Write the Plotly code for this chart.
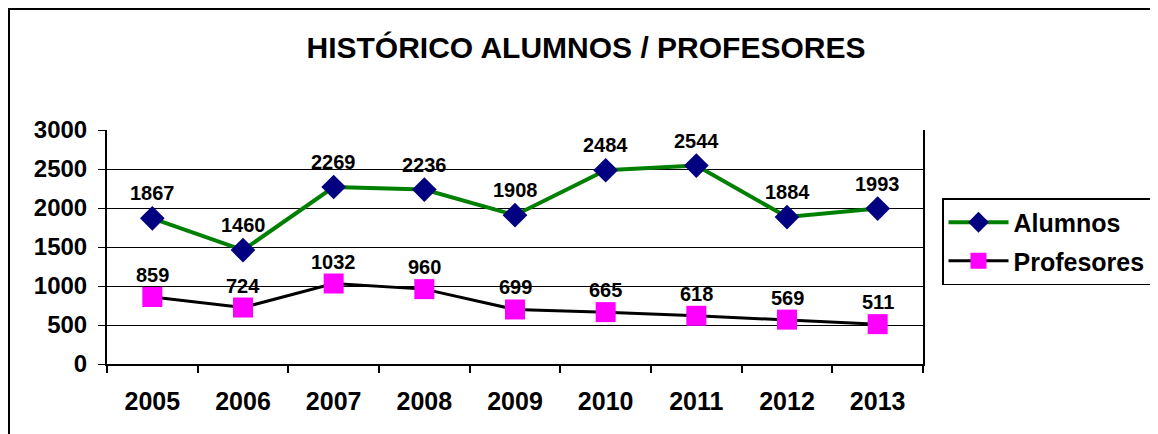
import plotly.graph_objects as go

years = ["2005", "2006", "2007", "2008", "2009", "2010", "2011", "2012", "2013"]
alumnos = [1867, 1460, 2269, 2236, 1908, 2484, 2544, 1884, 1993]
profesores = [859, 724, 1032, 960, 699, 665, 618, 569, 511]
y_ticks = [0, 500, 1000, 1500, 2000, 2500, 3000]

FONT = "Arial, Liberation Sans, sans-serif"

fig = go.Figure()
fig.add_trace(go.Scatter(
    x=years, y=alumnos, name="Alumnos", legendgroup="a",
    mode="lines+markers",
    line=dict(color="#008000", width=4),
    marker=dict(symbol="diamond", size=19, color="#000080", line=dict(width=0)),
    cliponaxis=False,
))
fig.add_trace(go.Scatter(
    x=years, y=profesores, name="Profesores", legendgroup="p",
    mode="lines+markers",
    line=dict(color="black", width=3),
    marker=dict(symbol="square", size=20, color="#FF00FF", line=dict(width=0)),
    cliponaxis=False,
))

# data labels from the series values (category axis: position by category index)
label_font = dict(family=FONT, size=20, color="black", weight="bold")
for series, shift in ((alumnos, 25), (profesores, 22)):
    for i, v in enumerate(series):
        fig.add_annotation(x=i, y=v, xref="x", yref="y", text=str(v), showarrow=False,
                           xanchor="center", yanchor="middle", yshift=shift,
                           font=label_font)

# page offset of the figure div (body margin)
OFF = 8
W, H = 1190 - OFF, 434 - OFF
# plot area in page pixels
PL, PR, PT, PB = 107, 923, 130, 364
L, T = PL - OFF, PT - OFF
R = W - (PR - OFF)
B = H - (PB - OFF)
pw = W - L - R
ph = H - T - B

def px_x(p):
    return (p - OFF - L) / pw

def px_y(p):
    return (H - B - (p - OFF)) / ph

fig.update_layout(
    width=W, height=H,
    margin=dict(l=L, r=R, t=T, b=B, pad=0),
    paper_bgcolor="white", plot_bgcolor="white",
    font=dict(family=FONT, color="black"),
    title=dict(text="HISTÓRICO ALUMNOS / PROFESORES", xref="container", x=(586 - OFF) / W,
               xanchor="center", yref="container", y=1 - (47 - OFF) / H, yanchor="middle",
               font=dict(family=FONT, size=30, color="black", weight="bold")),
    showlegend=True,
    legend=dict(x=px_x(942), y=px_y(198), xanchor="left", yanchor="top",
                bordercolor="black", borderwidth=1.5, bgcolor="white",
                font=dict(family=FONT, size=25, color="black", weight="bold"),
                tracegroupgap=3, itemwidth=60),
    xaxis=dict(type="category", range=[-0.5, 8.5], tickson="boundaries",
               ticks="outside", ticklen=7, tickcolor="black", tickwidth=1.5,
               showline=True, linecolor="black", linewidth=2, showgrid=False,
               tickfont=dict(family=FONT, size=25, color="black", weight="bold"),
               ticklabelstandoff=14, fixedrange=True),
    yaxis=dict(range=[0, 3000], tickvals=y_ticks, ticks="outside", ticklen=7,
               tickcolor="black", tickwidth=1, showline=True, linecolor="black",
               linewidth=2, mirror=True, showgrid=True, gridcolor="black", gridwidth=1,
               zeroline=False,
               tickfont=dict(family=FONT, size=24, color="black", weight="bold"),
               ticklabelstandoff=6, fixedrange=True),
    shapes=[dict(type="rect", xref="paper", yref="paper",
                 x0=px_x(9), x1=px_x(1200), y0=px_y(460), y1=px_y(9),
                 line=dict(color="black", width=2), layer="below")],
)

fig.write_html("out.html")
